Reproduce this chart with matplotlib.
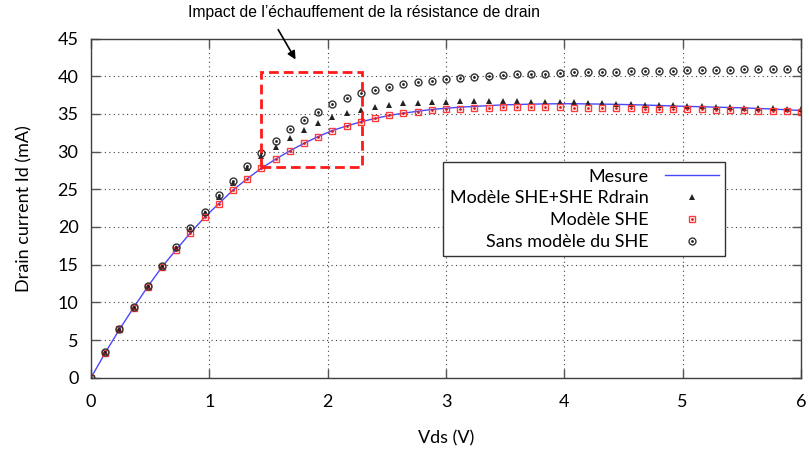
import matplotlib
matplotlib.use("Agg")
import matplotlib.pyplot as plt
import matplotlib.patches as patches
from matplotlib.legend_handler import HandlerTuple
import numpy as np

## Vds sample points (V)
vds = [0.00, 0.12, 0.24, 0.36, 0.48, 0.60, 0.72, 0.84, 0.96, 1.08,
       1.20, 1.32, 1.44, 1.56, 1.68, 1.80, 1.92, 2.04, 2.16, 2.28,
       2.40, 2.52, 2.64, 2.76, 2.88, 3.00, 3.12, 3.24, 3.36, 3.48,
       3.60, 3.72, 3.84, 3.96, 4.08, 4.20, 4.32, 4.44, 4.56, 4.68,
       4.80, 4.92, 5.04, 5.16, 5.28, 5.40, 5.52, 5.64, 5.76, 5.88, 6.00]

## Modele SHE (red squares)
idShe = [0.0, 3.3, 6.4, 9.3, 12.1, 14.7, 17.0, 19.2, 21.3, 23.1,
         24.9, 26.4, 27.8, 29.0, 30.1, 31.1, 32.0, 32.8, 33.4, 33.95,
         34.4, 34.8, 35.1, 35.3, 35.5, 35.6, 35.7, 35.8, 35.85, 35.9,
         35.9, 35.9, 35.9, 35.9, 35.85, 35.85, 35.8, 35.8, 35.75, 35.7,
         35.68, 35.65, 35.62, 35.6, 35.56, 35.52, 35.48, 35.44, 35.4, 35.35, 35.3]

## Modele SHE + SHE Rdrain (triangles)
idSheRd = [0.0, 3.35, 6.5, 9.4, 12.2, 14.85, 17.25, 19.7, 21.9, 24.0,
           25.9, 27.85, 29.4, 30.55, 31.8, 32.85, 33.75, 34.55, 35.15, 35.55,
           35.95, 36.2, 36.4, 36.5, 36.58, 36.62, 36.65, 36.65, 36.65, 36.65,
           36.65, 36.62, 36.6, 36.58, 36.52, 36.47, 36.42, 36.37, 36.3, 36.22,
           36.17, 36.12, 36.07, 36.0, 35.95, 35.9, 35.85, 35.78, 35.73, 35.68, 35.62]

## Sans modele du SHE (circles)
idNoShe = [0.0, 3.35, 6.5, 9.4, 12.2, 14.85, 17.3, 19.85, 22.05, 24.25,
           26.1, 28.1, 29.85, 31.45, 32.95, 34.2, 35.3, 36.3, 37.1, 37.75,
           38.2, 38.6, 39.0, 39.25, 39.42, 39.6, 39.77, 39.92, 40.05, 40.17,
           40.25, 40.3, 40.35, 40.42, 40.5, 40.55, 40.58, 40.62, 40.65, 40.68,
           40.71, 40.75, 40.79, 40.82, 40.85, 40.87, 40.9, 40.92, 40.94, 40.96, 41.0]

## Mesure (blue line)
idMes = [0.0, 3.3, 6.4, 9.3, 12.1, 14.7, 17.0, 19.2, 21.3, 23.1,
         24.9, 26.4, 27.8, 29.0, 30.1, 31.1, 32.0, 32.8, 33.4, 33.95,
         34.4, 34.8, 35.1, 35.35, 35.6, 35.75, 35.9, 36.0, 36.1, 36.2,
         36.25, 36.3, 36.33, 36.35, 36.35, 36.33, 36.3, 36.27, 36.23, 36.18,
         36.12, 36.05, 36.0, 35.95, 35.9, 35.85, 35.8, 35.72, 35.65, 35.55, 35.45]

labels = ["Mesure", "Mod\u00e8le SHE+SHE Rdrain", "Mod\u00e8le SHE", "Sans mod\u00e8le du SHE"]
xTicks = [0, 1, 2, 3, 4, 5, 6]
yTicks = [0, 5, 10, 15, 20, 25, 30, 35, 40, 45]

## zoomed region and annotation
boxX = [1.44, 2.29]
boxY = [28.0, 40.5]
note = "Impact de l\u2019\u00e9chauffement de la r\u00e9sistance de drain"

plt.rcParams["font.family"] = ["Lato", "DejaVu Sans"]

fig = plt.figure(figsize=(8.09, 4.51), dpi=100)
ax = fig.add_axes([0.1125, 0.1625, 0.8777, 0.752])

lMes, = ax.plot(vds, idMes, "-", color="#4848ff", lw=1.0)
lTri, = ax.plot(vds, idSheRd, "^", color="#222222", ms=4.2, mew=0)
lSq, = ax.plot(vds, idShe, "s", mfc="none", mec="#ff3a3a", ms=5.0, mew=1.0)
lSqDot, = ax.plot(vds, idShe, ".", color="#d02020", ms=2.0)
lCi, = ax.plot(vds, idNoShe, "o", mfc="none", mec="#333333", ms=5.0, mew=1.0)
lCiDot, = ax.plot(vds, idNoShe, ".", color="#222222", ms=2.0)

ax.add_patch(patches.Rectangle((boxX[0], boxY[0]), boxX[1] - boxX[0], boxY[1] - boxY[0],
                               fill=False, ec="#ff1a1a", lw=2.0, ls=(0, (3.5, 1.8)), zorder=5))

ax.annotate("", xy=(1.74, 41.9), xytext=(1.57, 46.5), xycoords="data",
            arrowprops=dict(arrowstyle="-|>", color="black", lw=1.2, mutation_scale=12),
            annotation_clip=False)
fig.text(364 / 809.0, 1 - 12 / 451.0, note, family="Liberation Sans", fontsize=11.3,
         ha="center", va="center")

ax.set_xlim(0, 6)
ax.set_ylim(0, 45)
ax.set_xticks(xTicks)
ax.set_yticks(yTicks)
ax.tick_params(direction="in", length=6.5, width=1.0, color="#555555",
               top=True, right=True, labelsize=13, pad=9)
ax.tick_params(axis="x", pad=12)
ax.grid(True, color="#444444", lw=0.8, ls=(0, (1, 3)))
for sp in ax.spines.values():
    sp.set_color("#404040")
    sp.set_linewidth(1.0)

ax.set_xlabel("Vds (V)", fontsize=13, labelpad=14)
ax.set_ylabel("Drain current Id (mA)", fontsize=13, labelpad=18)

leg = ax.legend([lMes, lTri, (lSq, lSqDot), (lCi, lCiDot)], labels,
                handler_map={tuple: HandlerTuple(ndivide=1, pad=0)},
                loc="upper right", bbox_to_anchor=(0.893, 0.635),
                markerfirst=False, fontsize=13, fancybox=False, framealpha=1,
                edgecolor="#333333", handlelength=3.0, labelspacing=0.32,
                borderpad=0.35, handletextpad=0.9, borderaxespad=0)
leg.get_frame().set_linewidth(1.0)

fig.savefig("out.png", dpi=100)
